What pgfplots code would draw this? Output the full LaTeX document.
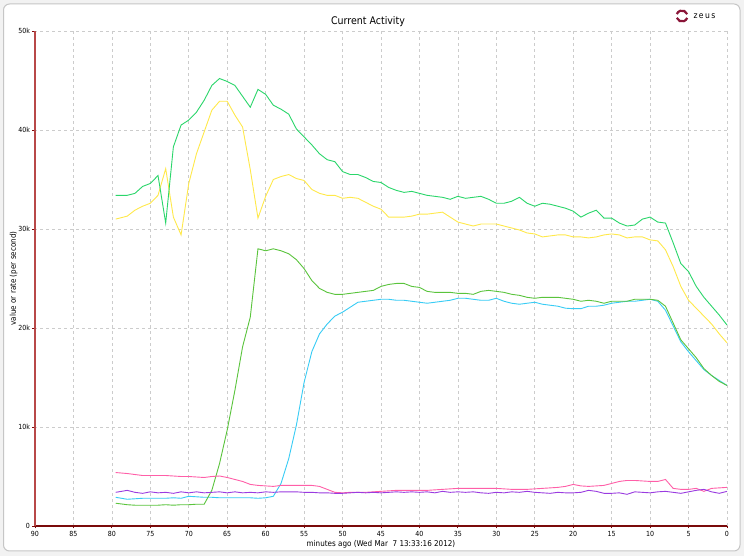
\documentclass[border=0pt]{standalone}
\usepackage{pgfplots}
\pgfplotsset{compat=1.18}
\usepackage{fontspec}
\setmainfont{DejaVu Sans Condensed}
\definecolor{gOne}{HTML}{2AD66A}
\definecolor{yel}{HTML}{FFE94A}
\definecolor{gTwo}{HTML}{5AC43C}
\definecolor{cya}{HTML}{38CCF5}
\definecolor{pnk}{HTML}{FF5FA8}
\definecolor{pur}{HTML}{9A3BE0}
\definecolor{axred}{HTML}{B84848}
\definecolor{axdark}{HTML}{7A0A0A}
\definecolor{zeusred}{HTML}{8A1538}
\begin{document}
\begin{tikzpicture}[x=1pt,y=1pt]
\fill[gray!10] (0,0) rectangle (744,556);
\draw[gray!45, line width=1pt, fill=white, rounded corners=6pt] (3.5,5) rectangle (740,552);
\node[font=\fontsize{10.5}{12}\selectfont] at (368,534) {Current Activity};
\draw[zeusred, line width=2.2pt] (682,540) ++(20:5.5) arc (20:160:5.5);
\draw[zeusred, line width=2.2pt] (682,540) ++(200:5.5) arc (200:340:5.5);
\node[anchor=west, font=\fontsize{8.5}{10}\selectfont] at (690,540) {z\,e\,u\,s};
\begin{axis}[
  at={(35pt,30pt)}, anchor=south west,
  scale only axis, width=692pt, height=495pt,
  x dir=reverse, xmin=0, xmax=90, ymin=0, ymax=50,
  xtick={0,5,...,90}, ytick={0,10,20,30,40,50},
  yticklabels={0,10k,20k,30k,40k,50k},
  axis x line=bottom, axis y line=left,
  axis line style={-},
  x axis line style={axdark, line width=2.4pt},
  y axis line style={axred, line width=1.3pt},
  tick align=outside, major tick length=2.5pt,
  every tick/.style={axdark, line width=0.8pt},
  grid=major,
  major grid style={gray!40, dashed, line width=0.6pt},
  tick label style={font=\fontsize{7}{8}\selectfont},
  /pgf/number format/assume math mode=true,
  xticklabel style={yshift=1pt},
  yticklabel style={xshift=1pt},
  xlabel={minutes ago (Wed Mar\ \ 7 13:33:16 2012)},
  ylabel={value or rate (per second)},
  label style={font=\fontsize{8}{9}\selectfont},
  xlabel style={yshift=3pt},
  ylabel style={yshift=-6pt},
  every axis plot/.append style={line width=0.9pt, mark=none},
  clip=false,
]
\addplot[yel] coordinates {(79.5,31.0)(78,31.3)(77,31.9)(76,32.3)(75,32.6)(74,33.4)(73,36.1)(72,31.2)(71,29.4)(70,34.6)(69,37.6)(68,39.8)(67,42.0)(66,42.9)(65,42.9)(64,41.5)(63,40.3)(62,36.0)(61,31.1)(60,33.3)(59,35.0)(58,35.3)(57,35.5)(56,35.1)(55,34.9)(54,34.0)(53,33.6)(52,33.4)(51,33.4)(50,33.1)(49,33.2)(48,33.1)(47,32.7)(46,32.3)(45,32.0)(44,31.2)(43,31.2)(42,31.2)(41,31.3)(40,31.5)(39,31.5)(38,31.6)(37,31.7)(36,31.2)(35,30.7)(34,30.5)(33,30.3)(32,30.5)(31,30.5)(30,30.5)(29,30.3)(28,30.1)(27,29.9)(26,29.6)(25,29.5)(24,29.2)(23,29.3)(22,29.4)(21,29.4)(20,29.2)(19,29.2)(18,29.1)(17,29.2)(16,29.4)(15,29.5)(14,29.4)(13,29.1)(12,29.2)(11,29.2)(10,28.9)(9,28.8)(8,27.9)(7,26.2)(6,24.2)(5,22.8)(4,22.0)(3,21.2)(2,20.4)(1,19.4)(0,18.5)};
\addplot[gOne] coordinates {(79.5,33.4)(78,33.4)(77,33.6)(76,34.3)(75,34.6)(74,35.4)(73,30.6)(72,38.3)(71,40.5)(70,41.0)(69,41.8)(68,43.0)(67,44.5)(66,45.2)(65,44.9)(64,44.5)(63,43.4)(62,42.3)(61,44.1)(60,43.6)(59,42.5)(58,42.1)(57,41.6)(56,40.1)(55,39.3)(54,38.5)(53,37.6)(52,37.0)(51,36.8)(50,35.8)(49,35.5)(48,35.5)(47,35.2)(46,34.8)(45,34.7)(44,34.2)(43,33.9)(42,33.7)(41,33.8)(40,33.6)(39,33.4)(38,33.3)(37,33.2)(36,33.0)(35,33.3)(34,33.1)(33,33.2)(32,33.3)(31,33.0)(30,32.6)(29,32.6)(28,32.8)(27,33.2)(26,32.6)(25,32.3)(24,32.6)(23,32.5)(22,32.3)(21,32.1)(20,31.8)(19,31.2)(18,31.6)(17,31.9)(16,31.1)(15,31.1)(14,30.6)(13,30.3)(12,30.4)(11,31.0)(10,31.2)(9,30.7)(8,30.6)(7,28.6)(6,26.5)(5,25.7)(4,24.2)(3,23.1)(2,22.2)(1,21.3)(0,20.3)};
\addplot[cya] coordinates {(79.5,2.9)(78,2.7)(77,2.75)(76,2.8)(75,2.8)(74,2.8)(73,2.8)(72,2.85)(71,2.8)(70,3.0)(69,2.95)(68,2.9)(67,2.9)(66,2.85)(65,2.85)(64,2.85)(63,2.85)(62,2.85)(61,2.8)(60,2.85)(59,3.0)(58,4.3)(57,6.8)(56,10.2)(55,14.5)(54,17.6)(53,19.4)(52,20.4)(51,21.2)(50,21.6)(49,22.1)(48,22.6)(47,22.7)(46,22.8)(45,22.9)(44,22.9)(43,22.8)(42,22.8)(41,22.7)(40,22.6)(39,22.5)(38,22.6)(37,22.7)(36,22.8)(35,23.0)(34,23.0)(33,22.9)(32,22.8)(31,22.8)(30,23.0)(29,22.7)(28,22.5)(27,22.4)(26,22.5)(25,22.6)(24,22.4)(23,22.3)(22,22.2)(21,22.0)(20,21.95)(19,21.95)(18,22.2)(17,22.2)(16,22.3)(15,22.5)(14,22.6)(13,22.7)(12,22.7)(11,22.8)(10,22.9)(9,22.7)(8,21.8)(7,20.2)(6,18.6)(5,17.6)(4,16.7)(3,15.8)(2,15.2)(1,14.7)(0,14.2)};
\addplot[gTwo] coordinates {(79.5,2.3)(78,2.15)(77,2.1)(76,2.1)(75,2.1)(74,2.1)(73,2.15)(72,2.1)(71,2.15)(70,2.15)(69,2.2)(68,2.2)(67,3.6)(66,6.3)(65,9.7)(64,13.7)(63,18.1)(62,21.1)(61,28.0)(60,27.8)(59,28.0)(58,27.8)(57,27.5)(56,26.9)(55,26.0)(54,24.8)(53,24.0)(52,23.6)(51,23.4)(50,23.4)(49,23.5)(48,23.6)(47,23.7)(46,23.8)(45,24.2)(44,24.4)(43,24.5)(42,24.5)(41,24.2)(40,24.1)(39,23.7)(38,23.6)(37,23.6)(36,23.6)(35,23.5)(34,23.5)(33,23.4)(32,23.7)(31,23.8)(30,23.7)(29,23.6)(28,23.4)(27,23.3)(26,23.1)(25,23.0)(24,23.1)(23,23.1)(22,23.1)(21,23.0)(20,22.9)(19,22.7)(18,22.8)(17,22.7)(16,22.5)(15,22.7)(14,22.7)(13,22.7)(12,22.9)(11,22.9)(10,22.9)(9,22.8)(8,22.2)(7,20.5)(6,18.8)(5,17.9)(4,17.0)(3,15.9)(2,15.2)(1,14.6)(0,14.2)};
\addplot[pnk] coordinates {(79.5,5.4)(78,5.3)(77,5.2)(76,5.1)(75,5.1)(74,5.1)(73,5.1)(72,5.05)(71,5.0)(70,5.0)(69,4.95)(68,4.9)(67,5.0)(66,5.05)(65,4.9)(64,4.7)(63,4.5)(62,4.2)(61,4.1)(60,4.05)(59,4.0)(58,4.1)(57,4.1)(56,4.1)(55,4.1)(54,4.1)(53,4.0)(52,3.7)(51,3.4)(50,3.35)(49,3.4)(48,3.4)(47,3.4)(46,3.45)(45,3.5)(44,3.55)(43,3.6)(42,3.6)(41,3.6)(40,3.6)(39,3.6)(38,3.65)(37,3.7)(36,3.75)(35,3.8)(34,3.8)(33,3.8)(32,3.8)(31,3.8)(30,3.8)(29,3.75)(28,3.7)(27,3.7)(26,3.7)(25,3.75)(24,3.8)(23,3.85)(22,3.9)(21,4.0)(20,4.2)(19,4.05)(18,4.0)(17,4.05)(16,4.1)(15,4.3)(14,4.5)(13,4.6)(12,4.6)(11,4.55)(10,4.5)(9,4.5)(8,4.7)(7,3.8)(6,3.7)(5,3.7)(4,3.8)(3,3.5)(2,3.8)(1,3.85)(0,3.9)};
\addplot[pur] coordinates {(79.5,3.4)(78,3.6)(77,3.4)(76,3.3)(75,3.45)(74,3.35)(73,3.4)(72,3.3)(71,3.45)(70,3.35)(69,3.45)(68,3.35)(67,3.4)(66,3.45)(65,3.35)(64,3.45)(63,3.35)(62,3.4)(61,3.35)(60,3.45)(59,3.4)(58,3.45)(57,3.45)(56,3.45)(55,3.4)(54,3.4)(53,3.35)(52,3.35)(51,3.3)(50,3.3)(49,3.35)(48,3.4)(47,3.35)(46,3.4)(45,3.35)(44,3.4)(43,3.45)(42,3.4)(41,3.45)(40,3.4)(39,3.45)(38,3.35)(37,3.5)(36,3.4)(35,3.45)(34,3.4)(33,3.45)(32,3.35)(31,3.3)(30,3.4)(29,3.35)(28,3.45)(27,3.4)(26,3.5)(25,3.4)(24,3.35)(23,3.3)(22,3.4)(21,3.35)(20,3.35)(19,3.4)(18,3.6)(17,3.5)(16,3.3)(15,3.3)(14,3.35)(13,3.2)(12,3.45)(11,3.4)(10,3.35)(9,3.45)(8,3.5)(7,3.4)(6,3.3)(5,3.45)(4,3.6)(3,3.7)(2,3.45)(1,3.3)(0,3.5)};
\end{axis}
\end{tikzpicture}
\end{document}
